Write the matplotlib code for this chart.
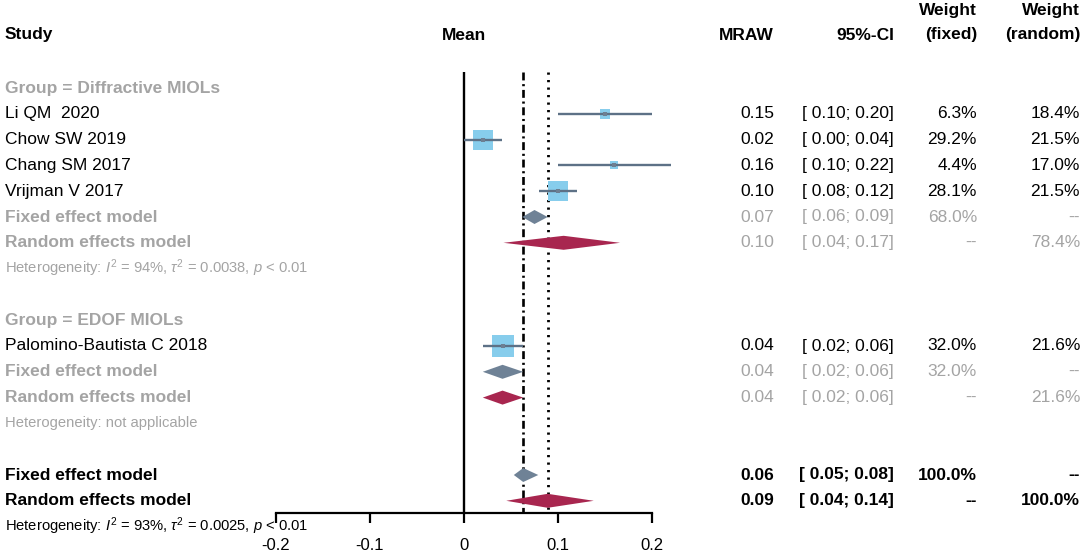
import numpy as np
import matplotlib
matplotlib.use('Agg')
import matplotlib.pyplot as plt
from matplotlib import transforms

plt.rcParams['font.family'] = ['Liberation Sans', 'DejaVu Sans']
plt.rcParams['mathtext.fontset'] = 'custom'
plt.rcParams['mathtext.rm'] = 'Liberation Sans'
plt.rcParams['mathtext.it'] = 'Liberation Sans:italic'

# studies
studies = ['Li QM  2020', 'Chow SW 2019', 'Chang SM 2017', 'Vrijman V 2017', 'Palomino-Bautista C 2018']
study_rows = [1, 2, 3, 4, 10]
mean = [0.15, 0.02, 0.16, 0.10, 0.041]
lower = [0.10, 0.00, 0.10, 0.08, 0.02]
upper = [0.20, 0.04, 0.22, 0.12, 0.063]
w_fixed = [6.3, 29.2, 4.4, 28.1, 32.0]
mraw_txt = ['0.15', '0.02', '0.16', '0.10', '0.04']
ci_txt = ['[ 0.10; 0.20]', '[ 0.00; 0.04]', '[ 0.10; 0.22]', '[ 0.08; 0.12]', '[ 0.02; 0.06]']
wf_txt = ['6.3%', '29.2%', '4.4%', '28.1%', '32.0%']
wr_txt = ['18.4%', '21.5%', '17.0%', '21.5%', '21.6%']

# subgroups
groups = ['Group = Diffractive MIOLs', 'Group = EDOF MIOLs']
group_rows = [0, 9]
sub_fixed = [(0.075, 0.062, 0.089), (0.041, 0.02, 0.063)]
sub_random = [(0.106, 0.042, 0.166), (0.041, 0.02, 0.063)]
sub_fixed_rows = [5, 11]
sub_random_rows = [6, 12]
sub_fixed_txt = [('0.07', '[ 0.06; 0.09]', '68.0%', '--'), ('0.04', '[ 0.02; 0.06]', '32.0%', '--')]
sub_random_txt = [('0.10', '[ 0.04; 0.17]', '--', '78.4%'), ('0.04', '[ 0.02; 0.06]', '--', '21.6%')]
sub_het = [r'Heterogeneity: $I^2$ = 94%, $\tau^2$ = 0.0038, $p$ < 0.01', 'Heterogeneity: not applicable']
sub_het_rows = [7, 13]

# overall
overall_fixed = (0.063, 0.053, 0.079)
overall_random = (0.089, 0.045, 0.138)
overall_fixed_txt = ('0.06', '[ 0.05; 0.08]', '100.0%', '--')
overall_random_txt = ('0.09', '[ 0.04; 0.14]', '--', '100.0%')
overall_het = r'Heterogeneity: $I^2$ = 93%, $\tau^2$ = 0.0025, $p$ < 0.01'

W, H = 1084, 555
row_px, row0 = 25.8, 88
fig = plt.figure(figsize=(W / 100, H / 100), dpi=100)
ax = fig.add_axes([276 / W, 0, (652 - 276) / W, 1])
ax.set_xlim(-0.2, 0.2)
ax.set_ylim((H - row0) / row_px, -row0 / row_px)
axis_row = (512.7 - row0) / row_px
top_row = (72 - row0) / row_px

for s in ['top', 'left', 'right']:
    ax.spines[s].set_visible(False)
ax.spines['bottom'].set_position(('data', axis_row))
ax.spines['bottom'].set_linewidth(1.6)
ax.set_yticks([])
ax.set_xticks([-0.2, -0.1, 0, 0.1, 0.2])
ax.set_xticklabels(['-0.2', '-0.1', '0', '0.1', '0.2'])
ax.tick_params(axis='x', length=7.5, width=1.6, pad=10.5, labelsize=12)
ax.patch.set_alpha(0)

# reference lines
ax.plot([0, 0], [top_row, axis_row], color='black', lw=1.7, solid_capstyle='butt')
ax.plot([overall_fixed[0]] * 2, [top_row, axis_row], color='black', lw=1.9,
        linestyle=(0, (3.0, 1.4, 0.8, 1.4)), dash_capstyle='butt')
ax.plot([overall_random[0]] * 2, [top_row, axis_row], color='black', lw=2.0,
        linestyle=(0, (0.8, 1.9)), dash_capstyle='butt')

sq_col = '#87cdec'
ci_col = '#5d7186'
fix_col = '#6f8296'
ran_col = '#a8264f'
grey = '#a4a4a4'

for r, m, lo, hi, w in zip(study_rows, mean, lower, upper, w_fixed):
    side = 21 * np.sqrt(w / 30) * 0.72
    ax.scatter([m], [r], s=side ** 2, marker='s', color=sq_col, linewidths=0, zorder=3, clip_on=False)
    ax.plot([lo, hi], [r, r], color=ci_col, lw=1.7, zorder=4, clip_on=False, solid_capstyle='butt')
    ax.scatter([m], [r], s=7, marker='s', color='#6d7f92', linewidths=0, zorder=5, clip_on=False)

half = 7 / row_px


def diamond(est, r, col):
    m, lo, hi = est
    ax.fill([lo, m, hi, m], [r, r - half, r, r + half], color=col, lw=0, zorder=3, clip_on=False)


for est, r in zip(sub_fixed, sub_fixed_rows):
    diamond(est, r, fix_col)
for est, r in zip(sub_random, sub_random_rows):
    diamond(est, r, ran_col)
diamond(overall_fixed, 15, fix_col)
diamond(overall_random, 16, ran_col)

# text columns
tr = transforms.blended_transform_factory(fig.transFigure, ax.transData)
fs = 12.5
col_x = [774, 894, 977, 1080]


def row_text(r, label, vals, color, weight):
    ax.text(5 / W, r, label, transform=tr, ha='left', va='center', fontsize=fs, color=color, weight=weight)
    for x, v in zip(col_x, vals):
        ax.text(x / W, r, v, transform=tr, ha='right', va='center', fontsize=fs, color=color,
                weight=weight if color == 'black' else 'normal')


# header
hdr_row = (35 - row0) / row_px
hdr2_row = (11 - row0) / row_px
ax.text(5 / W, hdr_row, 'Study', transform=tr, ha='left', va='center', fontsize=fs, weight='bold')
ax.text(0, hdr_row, 'Mean', ha='center', va='center', fontsize=fs, weight='bold')
for x, t in zip(col_x, ['MRAW', '95%-CI', '(fixed)', '(random)']):
    ax.text(x / W, hdr_row, t, transform=tr, ha='right', va='center', fontsize=fs, weight='bold')
for x in col_x[2:]:
    ax.text(x / W, hdr2_row, 'Weight', transform=tr, ha='right', va='center', fontsize=fs, weight='bold')

for g, r in zip(groups, group_rows):
    ax.text(5 / W, r, g, transform=tr, ha='left', va='center', fontsize=fs, color=grey, weight='bold')

for i, r in enumerate(study_rows):
    row_text(r, studies[i], (mraw_txt[i], ci_txt[i], wf_txt[i], wr_txt[i]), 'black', 'normal')

for vals, r in zip(sub_fixed_txt, sub_fixed_rows):
    row_text(r, 'Fixed effect model', vals, grey, 'bold')
for vals, r in zip(sub_random_txt, sub_random_rows):
    row_text(r, 'Random effects model', vals, grey, 'bold')
for t, r in zip(sub_het, sub_het_rows):
    ax.text(5 / W, r, t, transform=tr, ha='left', va='center', fontsize=10.6, color=grey)

row_text(15, 'Fixed effect model', overall_fixed_txt, 'black', 'bold')
row_text(16, 'Random effects model', overall_random_txt, 'black', 'bold')
ax.text(5 / W, 17, overall_het, transform=tr, ha='left', va='center', fontsize=10.6, color='black')

fig.savefig('out.png', dpi=100)
